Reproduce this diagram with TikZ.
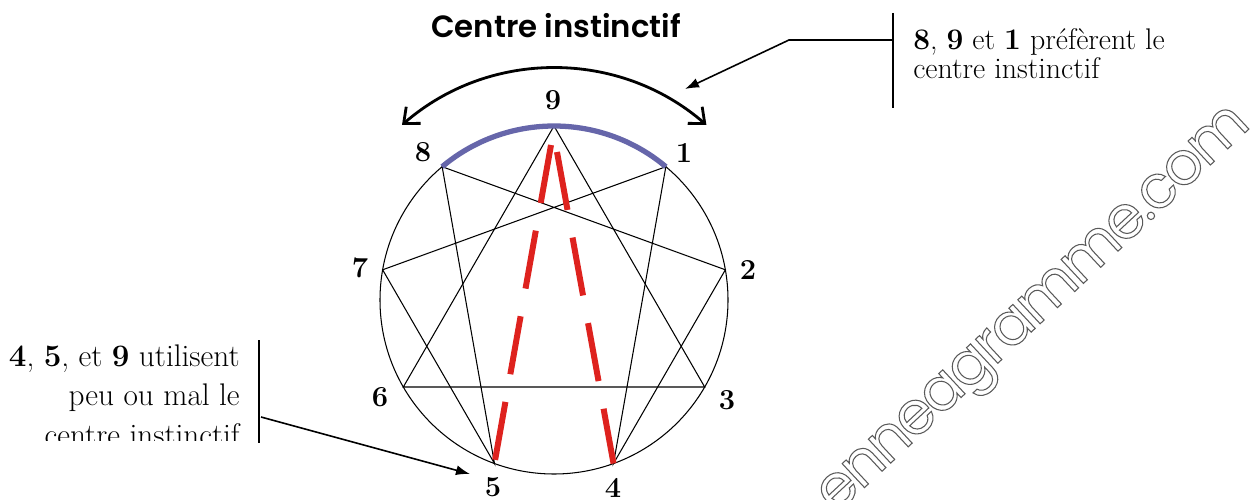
\documentclass[tikz,border=0pt]{standalone}
\usepackage{fontspec}
\setsansfont{Poppins}
\newfontfamily\titlefont{Poppins}[UprightFont={* SemiBold}]
\newfontfamily\wmfont{Poppins}[LetterSpace=-4]
\usetikzlibrary{arrows.meta, positioning}
\definecolor{instblue}{RGB}{102,102,170}
\definecolor{instred}{RGB}{222,34,30}
\newcommand{\hollowtext}[1]{\special{pdf:literal direct 0.35 G 0.6 w 1 Tr}#1\special{pdf:literal direct 0 Tr}}

\begin{document}
\begin{tikzpicture}[
    x=0.02cm, y=-0.02cm,
    every node/.style={inner sep=0pt},
    figline/.style={line width=0.6pt},
    centrearc/.style={line width=3pt, instblue},
    redline/.style={line width=3.4pt, instred, dash pattern=on 33.5pt off 16pt},
    bigarr/.style={line width=1.6pt, {Straight Barb[length=2.6mm, width=4.4mm]}-{Straight Barb[length=2.6mm, width=4.4mm]}},
    notebar/.style={line width=0.9pt},
    notearr/.style={line width=0.9pt, -{Latex[length=2.8mm, width=2mm]}},
    digit/.style={font=\fontsize{16.5}{16.5}\selectfont\bfseries},
    title/.style={font=\titlefont\fontsize{17.5}{20}\selectfont},
    note/.style={font=\fontsize{17}{16.6}\selectfont, align=left},
    bignote/.style={font=\fontsize{17.8}{22.7}\selectfont, align=right},
    watermark/.style={font=\wmfont\fontsize{34}{34}\selectfont}
]
\useasboundingbox (0,0) rectangle (1252,500);

% enneagram
\coordinate (c) at (554,300);
\foreach \n in {1,...,9}
    \coordinate (p\n) at ([shift={(c)}]{-90+40*\n}:174);
\draw[figline] (c) circle[radius=174];
\draw[figline] (p9) -- (p3) -- (p6) -- cycle;
\draw[figline] (p1) -- (p4) -- (p2) -- (p8) -- (p5) -- (p7) -- cycle;
\draw[centrearc] (p8) arc[start angle=-130, end angle=-50, radius=174];

% red lines from 9
\coordinate (r5) at (551,145);
\coordinate (r4) at (557,152);
\draw[redline] (r5) -- (p5);
\draw[redline] (r4) -- (p4);

% digits
\node[digit] (l9) at (553,100) {9};
\node[digit] (l8) at (423,152) {8};
\node[digit] (l1) at (684,153) {1};
\node[digit] (l7) at (360,268) {7};
\node[digit] (l2) at (748,270) {2};
\node[digit] (l6) at (380,397) {6};
\node[digit] (l3) at (727,400) {3};
\node[digit] (l5) at (493,487) {5};
\node[digit] (l4) at (613,488) {4};

% top arrow
\node[title] (ttl) at (556,26) {Centre instinctif};
\coordinate (a8) at (402,125);
\draw[bigarr] (a8) arc[start angle=-131, end angle=-49, radius=232];

% right note
\coordinate (b1) at (893,13);
\coordinate (b2) at (893,108);
\draw[notebar] (b1) -- (b2);
\node[note, anchor=north west] (prefer) at (913,28)
    {\textbf{8}, \textbf{9} et \textbf{1} préfèrent le\\centre instinctif};
\coordinate (k1) at (893,40);
\coordinate (k2) at (789,40);
\coordinate (k3) at (685,89);
\draw[notearr] (k1) -- (k2) -- (k3);

% left note
\coordinate (d1) at (259,340);
\coordinate (d2) at (259,443);
\draw[notebar] (d1) -- (d2);
\begin{scope}
\clip (0,330) rectangle (255,440);
\node[bignote, anchor=north east] (misuse) at (240,344)
    {\textbf{4}, \textbf{5}, et \textbf{9} utilisent\\peu ou mal le\\centre instinctif};
\end{scope}
\coordinate (e1) at (261,417);
\draw[notearr] (e1) -- (470,474) coordinate (e2);

% watermark
\node[watermark, rotate=43] (wm) at (1038,314) {\hollowtext{enneagramme.com}};
\end{tikzpicture}
\end{document}
